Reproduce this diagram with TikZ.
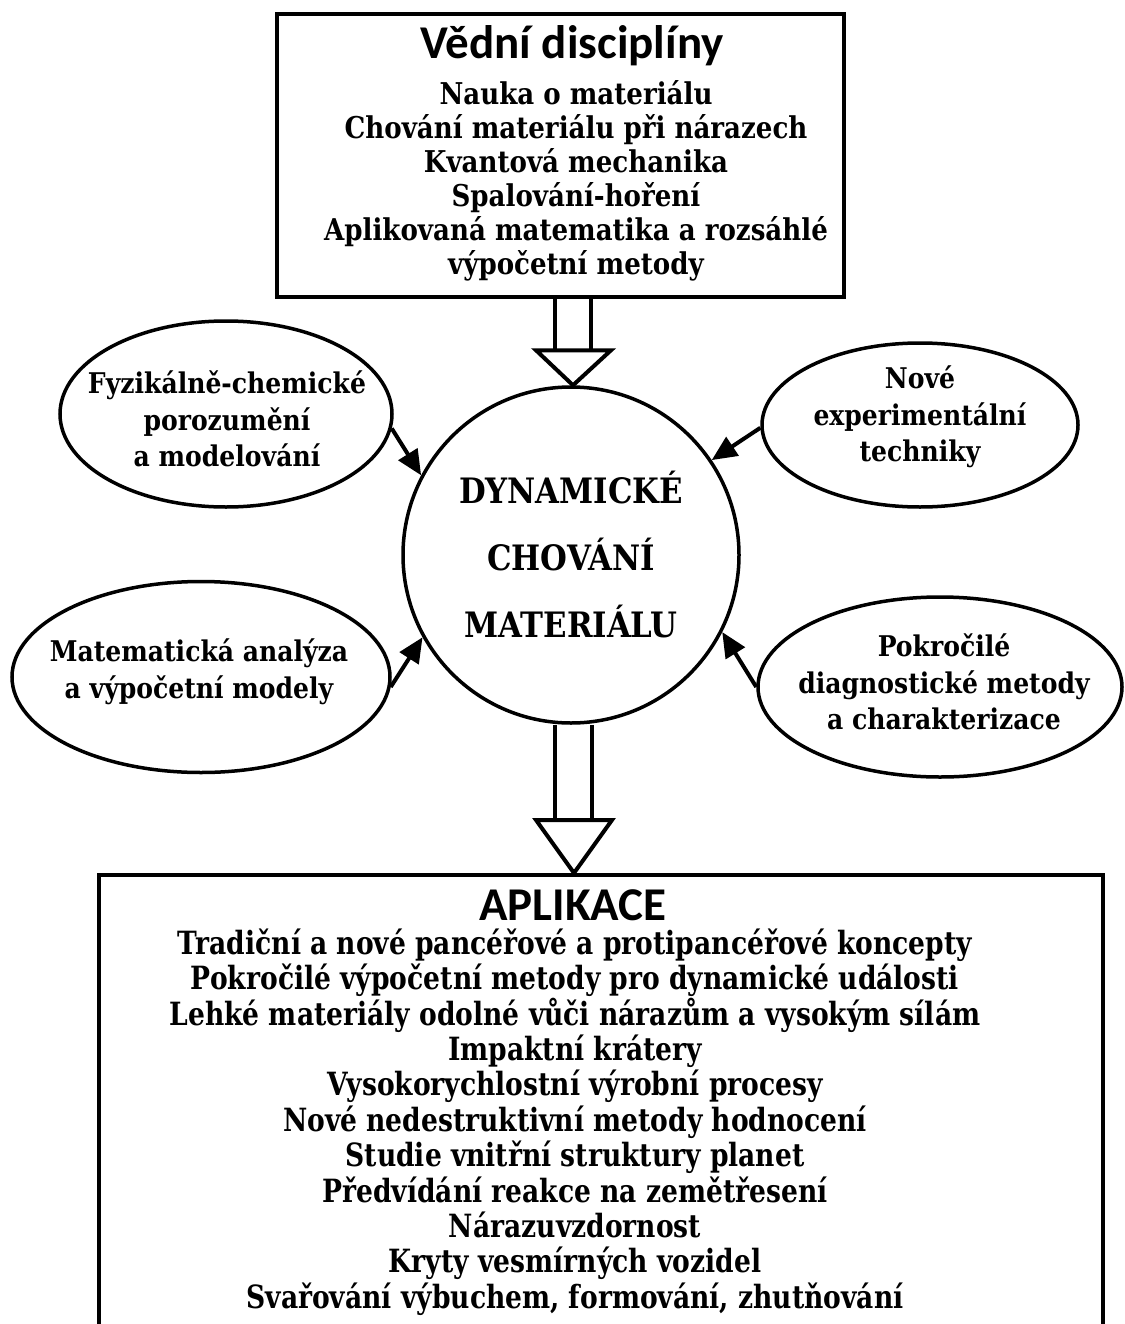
\documentclass[tikz,border=0pt]{standalone}
\usepackage{fontspec}
\setmainfont{DejaVu Serif}
\newfontfamily\serifb{DejaVu Serif}[FakeStretch=0.88]
\newfontfamily\serift{DejaVu Serif}[FakeStretch=0.87]
\newfontfamily\serifc{DejaVu Serif}[FakeStretch=0.83]
\newfontfamily\titlef{Carlito}
\newcommand\tightls{\lineskiplimit=-100pt\relax}
\usetikzlibrary{shapes.geometric,arrows.meta,calc}
\begin{document}
\begin{tikzpicture}[x=1pt,y=-1pt,
  boxst/.style={draw, line width=4pt, inner sep=0pt},
  titletxt/.style={font={\titlef\bfseries\fontsize{47}{50}\selectfont}, inner sep=0pt},
  listtxt/.style={font={\serift\bfseries\fontsize{30}{34}\selectfont\tightls}, align=center, inner sep=0pt},
  applist/.style={font={\serifc\bfseries\fontsize{32}{35.4}\selectfont\tightls}, align=center, inner sep=0pt},
  ell/.style={ellipse, draw, line width=3.5pt, inner sep=0pt},
  elltxt/.style={align=center, inner sep=0pt, font={\serifb\bfseries\fontsize{28.5}{36.5}\selectfont\tightls}},
  conn/.style={line width=4pt, -{Triangle[length=25pt,width=22pt]}},
  hollow/.style={line width=4pt, fill=white, line join=miter},
]
\useasboundingbox (0,0) rectangle (1124,1324);
\clip (0,0) rectangle (1124,1324);

% top box
\node[boxst, minimum width=567, minimum height=283, anchor=north west] (top) at (275,12) {};
\node[titletxt] (toptitle) at (572,46) {Vědní disciplíny};
\node[listtxt] (toplist) at (576,181) {Nauka o materiálu\\Chování materiálu při nárazech\\Kvantová mechanika\\Spalování-hoření\\Aplikovaná matematika a rozsáhlé\\výpočetní metody};

% central circle
\node[circle, draw, line width=3.5pt, minimum size=336, inner sep=0pt, align=center,
      font={\serifb\bfseries\fontsize{35}{67}\selectfont}] (circ) at (571,555) {DYNAMICKÉ\\CHOVÁNÍ\\MATERIÁLU};

% ellipses
\node[ell, minimum width=332, minimum height=186] (ul) at (226,414) {};
\node[elltxt] (ultxt) at (227,419) {Fyzikálně-chemické\\porozumění\\a modelování};
\node[ell, minimum width=316, minimum height=164] (ur) at (920,425) {};
\node[elltxt] (urtxt) at (920,417) {Nové\\experimentální\\techniky};
\node[ell, minimum width=378, minimum height=191] (ll) at (201,677) {};
\node[elltxt] (lltxt) at (199,672) {Matematická analýza\\a výpočetní modely};
\node[ell, minimum width=364, minimum height=180] (lr) at (940,687) {};
\node[elltxt] (lrtxt) at (944,682) {Pokročilé\\diagnostické metody\\a charakterizace};

% bottom box
\node[boxst, minimum width=1004, minimum height=480, anchor=north west] (app) at (97,873) {};
\node[titletxt] (apptitle) at (573,905) {APLIKACE};
\node[applist] (applst) at (575,1122) {Tradiční a nové pancéřové a protipancéřové koncepty\\Pokročilé výpočetní metody pro dynamické události\\Lehké materiály odolné vůči nárazům a vysokým sílám\\Impaktní krátery\\Vysokorychlostní výrobní procesy\\Nové nedestruktivní metody hodnocení\\Studie vnitřní struktury planet\\Předvídání reakce na zemětřesení\\Nárazuvzdornost\\Kryty vesmírných vozidel\\Svařování výbuchem, formování, zhutňování};

% connectors from ellipses
\draw[conn] (ul.-5) -- (circ.152);
\draw[conn] (ur.181) -- (circ.34);
\draw[conn] (ll.-3) -- (circ.209);
\draw[conn] (lr.180) -- (circ.-27);

% hollow arrow top -> circle
\coordinate (a1) at (top.south -| circ.north);
\draw[hollow] ($(a1)+(-16,0)$) -- ($(circ.north)+(-16,-35)$);
\draw[hollow] ($(a1)+(20,0)$) -- ($(circ.north)+(20,-35)$);
\draw[hollow] ($(circ.north)+(-35,-35)$) -- ($(circ.north)+(40,-35)$) -- ($(circ.north)+(2,0)$) -- cycle;

% hollow arrow circle -> bottom box
\coordinate (a2) at (app.north -| circ.south);
\draw[hollow] ($(circ.south)+(-16,0)$) -- ($(a2)+(-16,-53)$);
\draw[hollow] ($(circ.south)+(21,0)$) -- ($(a2)+(21,-53)$);
\draw[hollow] ($(a2)+(-35,-53)$) -- ($(a2)+(41,-53)$) -- ($(a2)+(3,0)$) -- cycle;
\end{tikzpicture}
\end{document}
